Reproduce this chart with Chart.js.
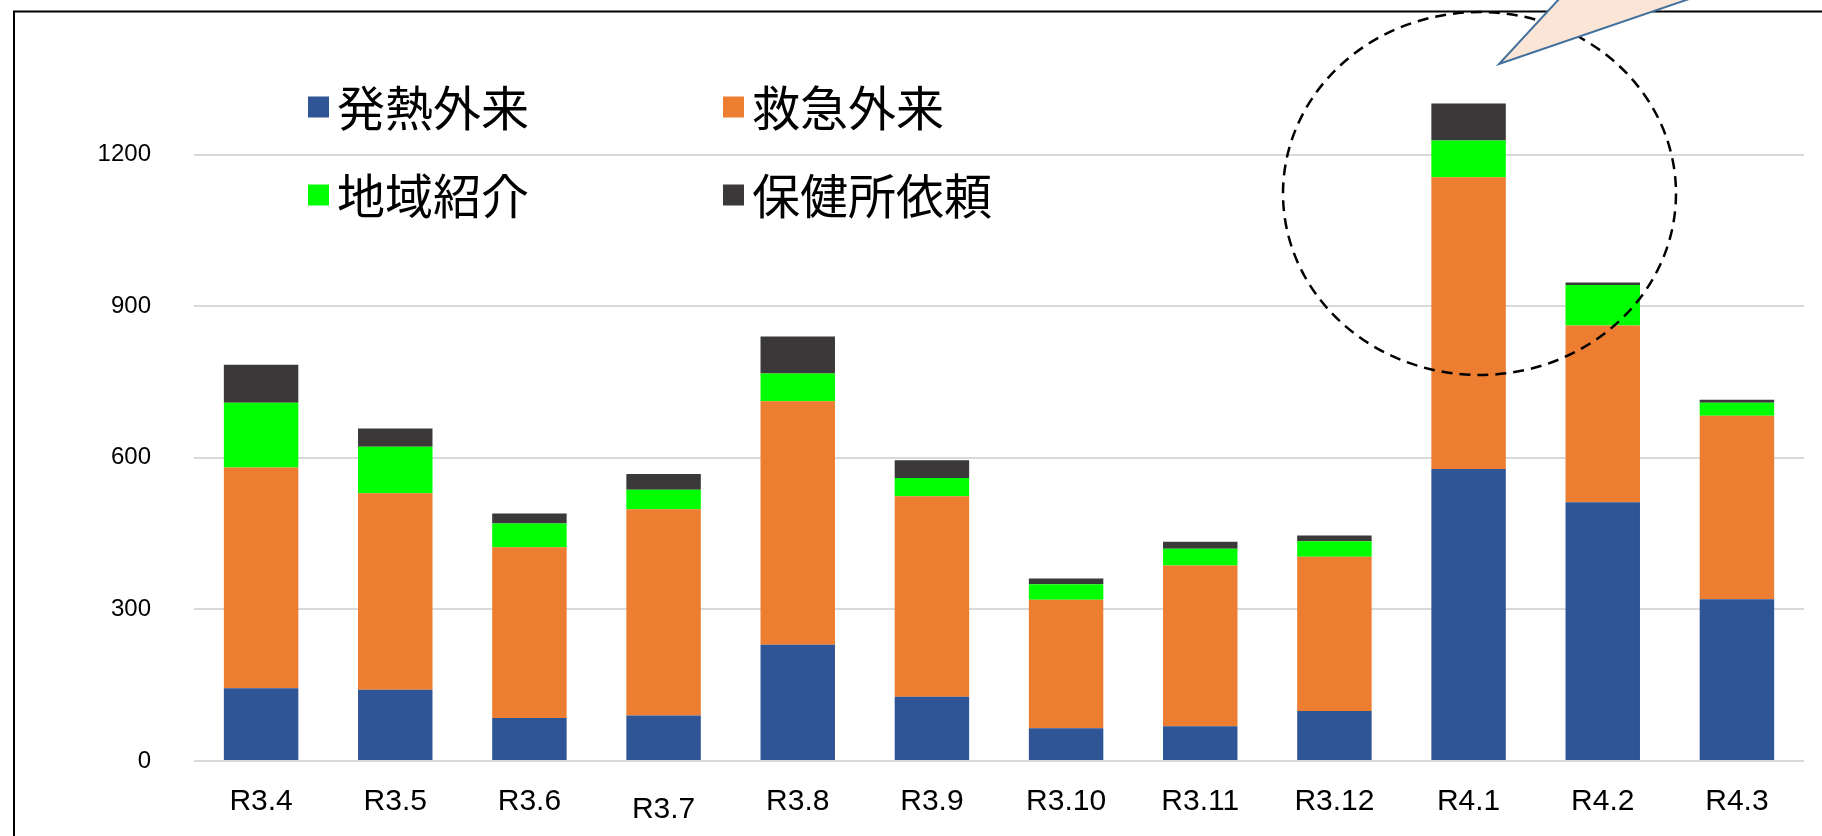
<!DOCTYPE html>
<html>
<head>
<meta charset="utf-8">
<script src="https://cdn.jsdelivr.net/npm/chart.js@4.4.1/dist/chart.umd.min.js"></script>
<style>
  html, body { margin: 0; padding: 0; background: #fff; }
  #wrap { width: 1822px; height: 836px; position: relative; }
</style>
</head>
<body>
<div id="wrap"><canvas id="myChart" width="1822" height="836"></canvas></div>
<script>
// months (Reiwa year.month)
const months = ["R3.4", "R3.5", "R3.6", "R3.7", "R3.8", "R3.9", "R3.10", "R3.11", "R3.12", "R4.1", "R4.2", "R4.3"];

// counts per category
const fever        = [144, 141, 85, 90, 230, 127, 65, 69, 99, 578, 512, 320];
const emergency    = [437, 389, 338, 408, 482, 397, 254, 318, 305, 577, 350, 363];
const referral     = [128, 92, 47, 39, 55, 36, 31, 33, 31, 73, 80, 26];
const healthCenter = [75, 36, 20, 31, 73, 35, 11, 14, 11, 73, 5, 6];

const seriesNames = ["発熱外来", "救急外来", "地域紹介", "保健所依頼"];
const yTickMax = 1200;

const colors = ["#2F5597", "#ED7D31", "#00FF00", "#3A3838"];

// legend, frame, dashed circle and callout
const decorations = {
  id: "decorations",
  beforeDraw(chart) {
    const ctx = chart.ctx;
    ctx.save();
    ctx.strokeStyle = "#000";
    ctx.lineWidth = 2;
    ctx.beginPath();
    ctx.moveTo(14, 836);
    ctx.lineTo(14, 11.5);
    ctx.lineTo(1822, 11.5);
    ctx.stroke();
    ctx.restore();
  },
  afterDraw(chart) {
    const ctx = chart.ctx;
    ctx.save();

    // legend 2x2
    const cols = [308, 723];
    const rows = [107, 195];
    ctx.font = '48px "Noto Sans CJK JP"';
    ctx.textBaseline = "middle";
    ctx.fillStyle = "#000";
    seriesNames.forEach((name, i) => {
      const x = cols[i % 2];
      const y = rows[Math.floor(i / 2)];
      ctx.fillStyle = colors[i];
      ctx.fillRect(x, y - 10.5, 21, 21);
      ctx.fillStyle = "#000";
      ctx.fillText(name, x + 29, y + 1);
    });

    // dashed circle
    ctx.strokeStyle = "#000";
    ctx.lineWidth = 2.5;
    ctx.setLineDash([11, 7]);
    ctx.beginPath();
    ctx.ellipse(1479.5, 193.5, 196.5, 181.5, 0, 0, Math.PI * 2);
    ctx.stroke();
    ctx.setLineDash([]);

    // callout pointer
    ctx.beginPath();
    ctx.moveTo(1560, -2);
    ctx.lineTo(1499, 64);
    ctx.lineTo(1692, -2);
    ctx.closePath();
    ctx.fillStyle = "#FBE5D6";
    ctx.fill();
    ctx.beginPath();
    ctx.moveTo(1560, -2);
    ctx.lineTo(1499, 64);
    ctx.lineTo(1692, -2);
    ctx.strokeStyle = "#41719C";
    ctx.lineWidth = 2;
    ctx.stroke();

    ctx.restore();
  }
};

const ctx = document.getElementById("myChart").getContext("2d");

new Chart(ctx, {
  type: "bar",
  data: {
    labels: months,
    datasets: [fever, emergency, referral, healthCenter].map((vals, i) => ({
      label: seriesNames[i],
      data: vals,
      backgroundColor: colors[i],
      borderWidth: 0,
      barPercentage: 0.555,
      categoryPercentage: 1
    }))
  },
  options: {
    responsive: false,
    animation: false,
    layout: { padding: { top: 3, right: 18, left: 0, bottom: 0 } },
    plugins: {
      legend: { display: false },
      tooltip: { enabled: false }
    },
    scales: {
      x: {
        stacked: true,
        grid: { display: false, drawTicks: false },
        border: { display: false },
        ticks: {
          color: "#000",
          padding: 23,
          maxRotation: 0,
          autoSkip: false,
          font: (c) => ({
            family: "Liberation Sans",
            size: 30,
            lineHeight: c.index === 3 ? "52px" : "36px"
          })
        },
        afterFit(scale) {
          scale.height = 75;
          scale.paddingLeft = 0;
          scale.paddingRight = 0;
        }
      },
      y: {
        stacked: true,
        min: 0,
        max: 1500,
        grid: {
          drawTicks: false,
          lineWidth: 2,
          color: (c) => (c.tick && c.tick.value > yTickMax ? "rgba(0,0,0,0)" : "#D9D9D9")
        },
        border: { display: false },
        ticks: {
          stepSize: 300,
          padding: 43,
          color: "#000",
          font: { family: "Liberation Sans", size: 24 },
          callback: (v) => (v > yTickMax ? "" : v)
        },
        afterFit(scale) {
          scale.width = 194;
          scale.paddingTop = 0;
          scale.paddingBottom = 0;
        }
      }
    }
  },
  plugins: [decorations]
});
</script>
</body>
</html>
